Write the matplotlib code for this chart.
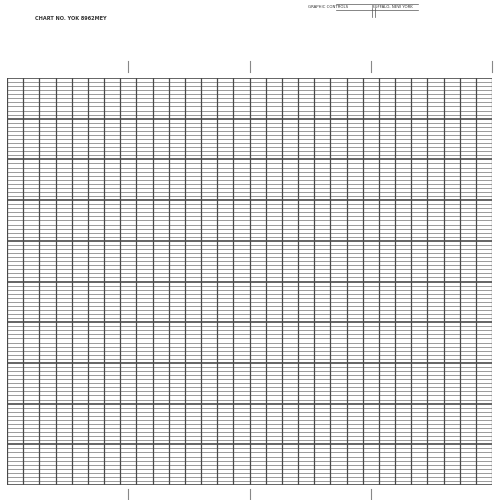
import matplotlib
matplotlib.use("Agg")
import matplotlib.pyplot as plt
import numpy as np

n_cols = 30
n_rows = 100
major_every = 10
tick_cols = [7.5, 15, 22.5, 30]
title_left = "CHART NO. YOK 8962MEY"
title_mid = "GRAPHIC CONTROLS"
title_right = "BUFFALO, NEW YORK"

fig = plt.figure(figsize=(5, 5), dpi=100)
fig.patch.set_facecolor("white")
ax = fig.add_axes([7/500, 1-485/500, 485/500, 407/500])
ax.set_xlim(0, n_cols)
ax.set_ylim(n_rows, 0)
ax.axis("off")

for r in range(n_rows + 1):
    major = r % major_every == 0
    ax.axhline(r, color="#3a3a3a" if major else "#8a8a8a",
               lw=1.1 if major else 0.6, zorder=2 if major else 1)
for c in range(n_cols + 1):
    ax.axvline(c, color="#4a4a4a", lw=0.9, zorder=3)

for c in tick_cols:
    ax.plot([c, c], [-4.2, -1.5], color="#888888", lw=0.8, clip_on=False)
    if c < n_cols:
        ax.plot([c, c], [101, 103.5], color="#888888", lw=0.8, clip_on=False)

fig.text(35/500, 1-19/500, title_left, fontsize=3.6, color="#333333", va="center", fontweight="bold")
fig.text(308/500, 1-7/500, title_mid, fontsize=2.8, color="#333333", va="center")
fig.text(372/500, 1-7/500, title_right, fontsize=2.8, color="#333333", va="center")
fig.add_artist(plt.Line2D([336/500, 418/500], [1-4/500, 1-4/500], color="#555555", lw=0.5))
fig.add_artist(plt.Line2D([336/500, 418/500], [1-10/500, 1-10/500], color="#555555", lw=0.5))
fig.add_artist(plt.Line2D([372/500, 372/500], [1-8/500, 1-17/500], color="#555555", lw=0.5))
fig.add_artist(plt.Line2D([375/500, 375/500], [1-8/500, 1-17/500], color="#555555", lw=0.5))

fig.savefig("out.png", dpi=100, facecolor="white")
